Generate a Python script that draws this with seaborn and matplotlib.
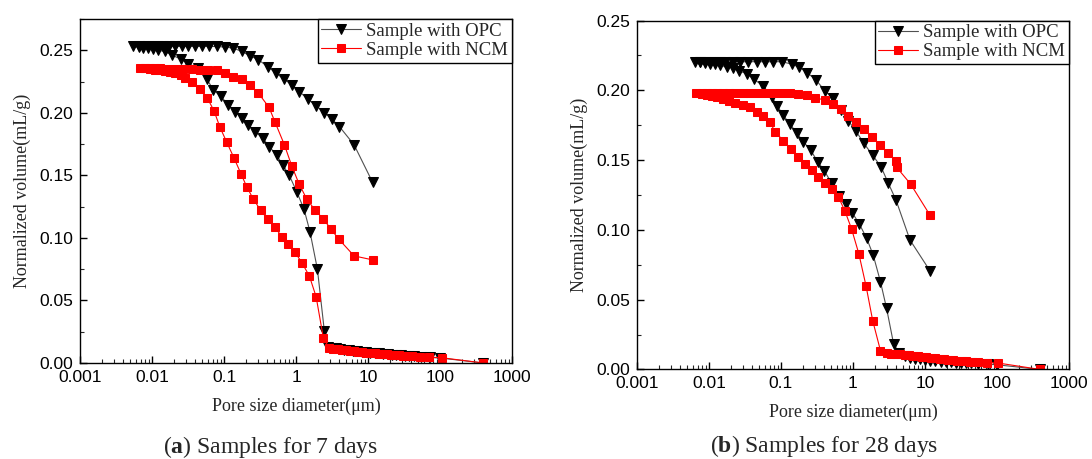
import numpy as np
import seaborn as sns
import matplotlib.pyplot as plt
from matplotlib.ticker import FixedLocator, FixedFormatter, LogLocator, NullFormatter, FormatStrFormatter, AutoMinorLocator

# 7 days, OPC: intrusion branch (ascending diameter) and extrusion branch
opc7_in_d = [0.0055, 0.0065, 0.0076, 0.0089, 0.0104, 0.0122, 0.015, 0.019, 0.025, 0.032, 0.044, 0.0575, 0.0711,
             0.090, 0.115, 0.142, 0.176, 0.218, 0.270, 0.344, 0.426, 0.540, 0.653, 0.807, 1.02, 1.29, 1.56, 1.98,
             2.47, 2.81, 3.2, 3.6, 4.1, 4.7, 5.4, 6.2, 7.1, 8.2, 9.4, 10.8, 12.4, 14.2, 16.3, 18.7, 21.5, 24.7,
             28.3, 32.5, 37.3, 42.8, 55, 72, 100, 400]
opc7_in_v = [0.253, 0.2525, 0.252, 0.2515, 0.251, 0.250, 0.249, 0.246, 0.243, 0.239, 0.2357, 0.227, 0.2184,
             0.2131, 0.2064, 0.201, 0.1957, 0.1904, 0.185, 0.1797, 0.173, 0.1659, 0.1584, 0.1499, 0.137, 0.123,
             0.105, 0.075, 0.0258, 0.013, 0.0122, 0.0116, 0.011, 0.0105, 0.010, 0.0096, 0.0092, 0.0088, 0.0085,
             0.0082, 0.0079, 0.0076, 0.0073, 0.007, 0.0067, 0.0064, 0.0061, 0.0058, 0.0055, 0.0052, 0.0048,
             0.0044, 0.004, 0.0]
opc7_ex_d = [0.0065, 0.0076, 0.0089, 0.0104, 0.0122, 0.0144, 0.017, 0.0209, 0.0258, 0.032, 0.0396, 0.049, 0.0625,
             0.0791, 0.103, 0.135, 0.176, 0.230, 0.300, 0.413, 0.527, 0.681, 0.871, 1.11, 1.45, 1.90, 2.47, 3.13,
             4.0, 6.4, 11.6]
opc7_ex_v = [0.253, 0.253, 0.253, 0.253, 0.253, 0.253, 0.253, 0.253, 0.253, 0.253, 0.253, 0.253, 0.253, 0.253,
             0.2525, 0.2517, 0.249, 0.2456, 0.2424, 0.2365, 0.2317, 0.2269, 0.2224, 0.217, 0.211, 0.2056, 0.2002,
             0.195, 0.189, 0.1744, 0.1443]

# 7 days, NCM
ncm7_in_d = [0.0068, 0.0080, 0.0094, 0.011, 0.0129, 0.015, 0.0175, 0.021, 0.025, 0.0287, 0.0355, 0.0464, 0.0587,
             0.0725, 0.088, 0.109, 0.138, 0.172, 0.206, 0.255, 0.324, 0.404, 0.511, 0.632, 0.783, 0.969, 1.20,
             1.53, 1.90, 2.40, 2.90, 3.3, 3.8, 4.3, 4.9, 5.6, 6.4, 7.3, 8.3, 9.5, 10.8, 12.3, 14, 16, 18.3, 20.9,
             23.8, 27.2, 31, 35.4, 40.4, 52, 71, 105, 400]
ncm7_in_v = [0.236, 0.2355, 0.235, 0.2345, 0.234, 0.2333, 0.2325, 0.2315, 0.2305, 0.2277, 0.2245, 0.219, 0.2117,
             0.2016, 0.1883, 0.1765, 0.1637, 0.1512, 0.141, 0.131, 0.1219, 0.115, 0.1085, 0.101, 0.095, 0.0885,
             0.0803, 0.0696, 0.053, 0.0197, 0.0117, 0.0113, 0.0109, 0.0105, 0.0101, 0.0097, 0.0093, 0.0089,
             0.0086, 0.0083, 0.008, 0.0077, 0.0074, 0.0071, 0.0068, 0.0065, 0.0062, 0.006, 0.0058, 0.0056,
             0.0054, 0.005, 0.0046, 0.0042, 0.0]
ncm7_ex_d = [0.0080, 0.0094, 0.011, 0.0129, 0.016, 0.0209, 0.0272, 0.0355, 0.0464, 0.0606, 0.079, 0.103, 0.135,
             0.176, 0.230, 0.300, 0.422, 0.511, 0.689, 0.871, 1.10, 1.41, 1.85, 2.40, 3.06, 3.92, 6.4, 11.6]
ncm7_ex_v = [0.236, 0.2358, 0.2356, 0.2354, 0.2352, 0.235, 0.2348, 0.2346, 0.2344, 0.2342, 0.234, 0.2317, 0.229,
             0.227, 0.2219, 0.2157, 0.2043, 0.1925, 0.1744, 0.1576, 0.1432, 0.131, 0.122, 0.115, 0.107, 0.099,
             0.0856, 0.0824]

# 28 days, OPC
opc28_in_d = [0.0064, 0.0075, 0.0088, 0.0103, 0.0121, 0.0142, 0.0176, 0.0217, 0.0264, 0.0334, 0.0421, 0.0568,
              0.0742, 0.0889, 0.108, 0.133, 0.165, 0.204, 0.258, 0.323, 0.400, 0.506, 0.646, 0.804, 0.985, 1.22,
              1.55, 1.91, 2.41, 2.93, 3.67, 4.42, 5.2, 6.2, 7.3, 8.6, 10.1, 11.9, 14, 16.5, 19.4, 22.8, 26.8,
              31.5, 37, 43.5, 55, 75, 100, 400]
opc28_in_v = [0.2205, 0.22, 0.2195, 0.219, 0.2185, 0.2178, 0.2169, 0.2158, 0.2141, 0.2117, 0.2079, 0.2031,
              0.1954, 0.1888, 0.182, 0.1759, 0.1696, 0.1632, 0.1572, 0.1489, 0.1424, 0.1334, 0.1243, 0.1186,
              0.112, 0.1045, 0.094, 0.082, 0.0629, 0.0438, 0.0183, 0.0116, 0.0095, 0.0085, 0.0078, 0.0072,
              0.0067, 0.0063, 0.006, 0.0057, 0.0054, 0.0051, 0.0049, 0.0047, 0.0045, 0.0043, 0.004, 0.0037,
              0.0034, 0.0]
opc28_ex_d = [0.0075, 0.0088, 0.0103, 0.0121, 0.0142, 0.0166, 0.0217, 0.027, 0.0351, 0.0458, 0.060, 0.078, 0.102,
              0.141, 0.180, 0.232, 0.306, 0.408, 0.522, 0.675, 0.861, 1.10, 1.42, 1.88, 2.45, 3.10, 3.96, 6.19,
              11.7]
opc28_ex_v = [0.2205, 0.2205, 0.2205, 0.2205, 0.2205, 0.2205, 0.2205, 0.2205, 0.2205, 0.2205, 0.2205, 0.2205,
              0.2205, 0.2188, 0.2165, 0.2126, 0.2074, 0.1997, 0.1943, 0.1859, 0.1782, 0.1708, 0.162, 0.1534,
              0.1453, 0.1334, 0.1214, 0.0928, 0.0708]

# 28 days, NCM
ncm28_in_d = [0.0067, 0.0079, 0.0093, 0.0109, 0.0128, 0.0155, 0.0191, 0.0229, 0.0293, 0.037, 0.0458, 0.0568,
              0.070, 0.0825, 0.108, 0.138, 0.174, 0.215, 0.267, 0.330, 0.408, 0.506, 0.625, 0.774, 0.955, 1.21,
              1.52, 1.88, 2.41, 2.93, 3.4, 3.9, 4.5, 5.2, 6.0, 6.9, 7.9, 9.1, 10.5, 12.1, 13.9, 16, 18.4, 21.2,
              24.4, 28.1, 32.3, 37.2, 42.8, 54, 72, 105, 400]
ncm28_in_v = [0.1983, 0.1974, 0.1966, 0.1959, 0.195, 0.1935, 0.1926, 0.1912, 0.1895, 0.1878, 0.1847, 0.1816,
              0.1775, 0.1704, 0.1639, 0.1577, 0.152, 0.147, 0.1429, 0.1381, 0.1334, 0.1291, 0.1238, 0.1135,
              0.1008, 0.0827, 0.0598, 0.035, 0.0135, 0.0116, 0.0113, 0.011, 0.0108, 0.0106, 0.0103, 0.0099,
              0.0094, 0.009, 0.0086, 0.0082, 0.0079, 0.0076, 0.0073, 0.007, 0.0067, 0.0064, 0.0061, 0.0058,
              0.0055, 0.0053, 0.005, 0.0046, 0.0]
ncm28_ex_d = [0.0079, 0.0093, 0.0109, 0.0128, 0.0155, 0.0191, 0.0229, 0.0293, 0.037, 0.0484, 0.062, 0.080, 0.102,
              0.133, 0.174, 0.227, 0.296, 0.408, 0.522, 0.675, 0.861, 1.10, 1.42, 1.85, 2.37, 3.10, 3.96, 4.05,
              6.31, 11.7]
ncm28_ex_v = [0.1983, 0.1983, 0.1983, 0.1983, 0.1983, 0.1983, 0.1983, 0.1983, 0.1983, 0.1983, 0.1983, 0.1983,
              0.1983, 0.1983, 0.1974, 0.1966, 0.1947, 0.193, 0.1902, 0.1864, 0.1816, 0.1775, 0.172, 0.1663,
              0.1608, 0.1549, 0.1496, 0.1448, 0.1329, 0.1107]

xtick_vals = [0.001, 0.01, 0.1, 1, 10, 100, 1000]
xtick_labels = ['0.001', '0.01', '0.1', '1', '10', '100', '1000']
labels = ['Sample with OPC', 'Sample with NCM']
captions = [r'($\mathbf{a}$) Samples for 7 days', r'($\mathbf{b}$) Samples for 28 days']

sns.set_style('ticks')
plt.rcParams['font.family'] = ['Liberation Sans', 'DejaVu Sans']
plt.rcParams['mathtext.fontset'] = 'custom'
plt.rcParams['mathtext.rm'] = 'Liberation Serif'
plt.rcParams['mathtext.bf'] = 'Liberation Serif:bold'

opc_style = dict(color='#505050', lw=0.8, marker='v', markersize=6.5, markerfacecolor='black', markeredgecolor='black')
ncm_style = dict(color='red', lw=0.8, marker='s', markersize=5.3, markerfacecolor='red', markeredgecolor='red')


def draw(ax, d_in, v_in, d_ex, v_ex, label, style):
    # mercury goes in from large to small pores, then back out
    d = d_in[::-1] + d_ex
    v = v_in[::-1] + v_ex
    sns.lineplot(x=d, y=v, sort=False, estimator=None, ax=ax, label=label, **style)


fig = plt.figure(figsize=(10.92, 4.59), dpi=100)
ax1 = fig.add_axes([0.0733, 0.2092, 0.3956, 0.7495])
ax2 = fig.add_axes([0.5833, 0.1950, 0.3956, 0.7603])

draw(ax1, opc7_in_d, opc7_in_v, opc7_ex_d, opc7_ex_v, labels[0], opc_style)
draw(ax1, ncm7_in_d, ncm7_in_v, ncm7_ex_d, ncm7_ex_v, labels[1], ncm_style)
draw(ax2, opc28_in_d, opc28_in_v, opc28_ex_d, opc28_ex_v, labels[0], opc_style)
draw(ax2, ncm28_in_d, ncm28_in_v, ncm28_ex_d, ncm28_ex_v, labels[1], ncm_style)

for ax, top, cap, cx, cy in [(ax1, 0.275, captions[0], 0.248, 0.026), (ax2, 0.25, captions[1], 0.7546, 0.028)]:
    ax.set_xscale('log')
    ax.set_xlim(0.001, 1000)
    ax.set_ylim(0, top)
    ax.xaxis.set_major_locator(FixedLocator(xtick_vals))
    ax.xaxis.set_major_formatter(FixedFormatter(xtick_labels))
    ax.xaxis.set_minor_locator(LogLocator(base=10, subs=np.arange(2, 10)))
    ax.xaxis.set_minor_formatter(NullFormatter())
    ax.set_yticks([0, 0.05, 0.10, 0.15, 0.20, 0.25])
    ax.yaxis.set_major_formatter(FormatStrFormatter('%.2f'))
    ax.yaxis.set_minor_locator(AutoMinorLocator(2))
    ax.tick_params(which='major', direction='in', length=5, width=1, labelsize=12.5, pad=5, colors='black')
    ax.tick_params(which='minor', direction='in', length=3, width=0.8)
    for s in ax.spines.values():
        s.set_linewidth(1.0)
        s.set_color('black')
    ax.set_xlabel('Pore size diameter(μm)', fontfamily='Liberation Serif', fontsize=13, labelpad=9)
    ax.set_ylabel('Normalized volume(mL/g)', fontfamily='Liberation Serif', fontsize=13, labelpad=6)
    leg = ax.legend(loc='upper right', borderaxespad=0, fancybox=False, edgecolor='black', framealpha=1,
                    prop={'family': 'Liberation Serif', 'size': 13.5}, handlelength=2.1, handletextpad=0.3,
                    borderpad=0.2, labelspacing=0.1)
    leg.get_frame().set_linewidth(1.0)
    fig.text(cx, cy, cap, ha='center', va='center', fontfamily='Liberation Serif', fontsize=17)

fig.savefig('out.png', dpi=100)
